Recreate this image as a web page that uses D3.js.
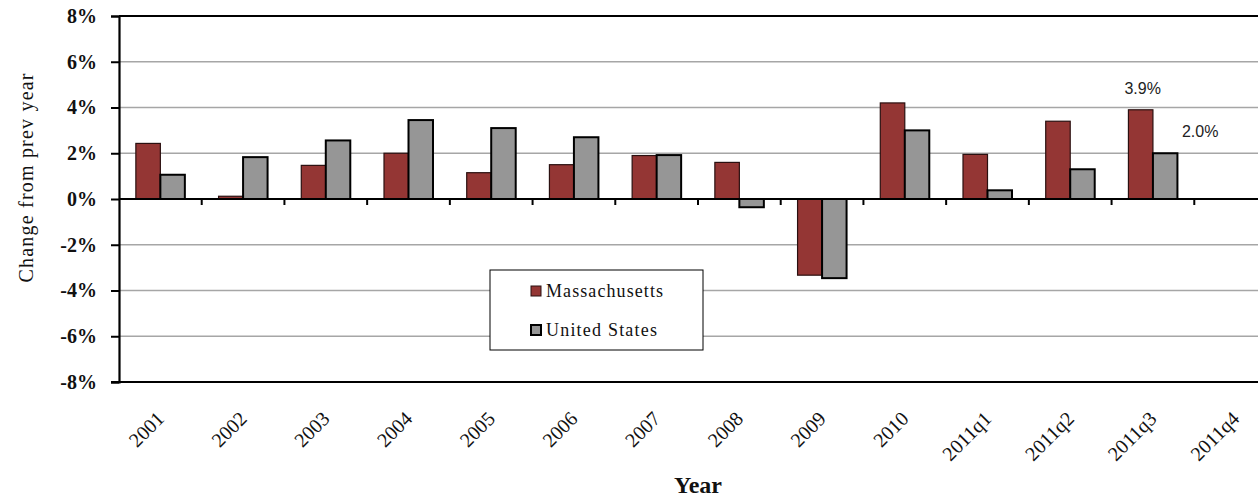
<!DOCTYPE html>
<html>
<head>
<meta charset="utf-8">
<script src="https://cdn.jsdelivr.net/npm/d3@7"></script>
<style>
  body { margin: 0; background: #fff; overflow: hidden; }
  svg { display: block; font-family: "Liberation Serif", "Times New Roman", serif; }
</style>
</head>
<body>
<svg></svg>
<script>
var categories = ["2001", "2002", "2003", "2004", "2005", "2006", "2007", "2008", "2009", "2010", "2011q1", "2011q2", "2011q3", "2011q4"];
var massachusetts = [2.43, 0.12, 1.47, 2.0, 1.15, 1.5, 1.9, 1.6, -3.33, 4.2, 1.95, 3.4, 3.9, null];
var unitedStates = [1.06, 1.83, 2.56, 3.45, 3.1, 2.7, 1.92, -0.36, -3.46, 3.0, 0.38, 1.3, 2.0, null];
var yTicks = [-8, -6, -4, -2, 0, 2, 4, 6, 8];
var seriesNames = ["Massachusetts", "United States"];
var seriesColors = ["#943634", "#969696"];

(function (d3) {
  'use strict';

  var width = 1258, height = 497;
  var svg = d3.select("svg").attr("width", width).attr("height", height);

  var plotL = 119, plotR = 1277, plotT = 16, plotB = 382;

  var x = d3.scaleBand().domain(categories).range([plotL, plotR]).padding(0);
  var y = d3.scaleLinear().domain([-8, 8]).range([plotB, plotT]);
  var barW = 24.5;

  // gridlines
  svg.append("g").selectAll("line")
    .data(yTicks.filter(function (t) { return t !== 0 && Math.abs(t) !== 8; }))
    .enter().append("line")
      .attr("x1", plotL).attr("x2", width)
      .attr("y1", function (d) { return y(d); }).attr("y2", function (d) { return y(d); })
      .attr("stroke", "#a6a6a6").attr("stroke-width", 1.3);

  // top frame line
  svg.append("line").attr("x1", plotL).attr("x2", width).attr("y1", y(8)).attr("y2", y(8))
    .attr("stroke", "#000").attr("stroke-width", 2);

  // y axis
  var yAxis = d3.axisLeft(y).tickValues(yTicks).tickSize(8).tickPadding(14)
    .tickFormat(function (d) { return d + "%"; });
  var ya = svg.append("g").attr("transform", "translate(" + plotL + ",0)").call(yAxis);
  ya.select(".domain").attr("stroke-width", 2.2);
  ya.selectAll(".tick line").attr("stroke-width", 2);
  ya.selectAll("text")
    .attr("font-family", "Liberation Serif, Times New Roman, serif")
    .attr("font-size", 20).attr("font-weight", "bold").attr("fill", "#111");

  // bars
  function drawSeries(vals, i) {
    svg.append("g").selectAll("rect")
      .data(vals.map(function (v, k) { return { c: categories[k], v: v }; })
        .filter(function (d) { return d.v !== null; }))
      .enter().append("rect")
        .attr("x", function (d) { return x(d.c) + x.bandwidth() / 2 - barW + i * barW; })
        .attr("width", barW)
        .attr("y", function (d) { return y(Math.max(0, d.v)); })
        .attr("height", function (d) { return Math.abs(y(d.v) - y(0)); })
        .attr("fill", seriesColors[i])
        .attr("stroke", i === 0 ? "#2a1010" : "#000")
        .attr("stroke-width", i === 0 ? 1.2 : 2);
  }
  drawSeries(massachusetts, 0);
  drawSeries(unitedStates, 1);

  // x axis ticks at zero, between categories
  var xa = svg.append("g").attr("transform", "translate(0," + y(0) + ")")
    .call(d3.axisBottom(x).tickSize(6).tickFormat(""));
  xa.select(".domain").remove();
  xa.selectAll(".tick line")
    .attr("transform", "translate(" + (x.bandwidth() / 2) + ",0)")
    .attr("stroke-width", 2);
  svg.append("line").attr("x1", plotL).attr("x2", width).attr("y1", y(0)).attr("y2", y(0))
    .attr("stroke", "#000").attr("stroke-width", 2);

  // bottom line
  svg.append("line").attr("x1", plotL - 8).attr("x2", width).attr("y1", y(-8)).attr("y2", y(-8))
    .attr("stroke", "#000").attr("stroke-width", 2.2);

  // category labels
  svg.append("g").selectAll("text")
    .data(categories)
    .enter().append("text")
      .attr("transform", function (d) {
        return "translate(" + (x(d) + x.bandwidth() / 2 + 5) + ",420) rotate(-45)";
      })
      .attr("text-anchor", "end")
      .attr("font-size", 20)
      .attr("fill", "#111")
      .text(function (d) { return d; });

  // axis titles
  svg.append("text")
    .attr("transform", "translate(33,178) rotate(-90)")
    .attr("text-anchor", "middle")
    .attr("font-size", 20).attr("fill", "#111")
    .attr("textLength", 209).attr("lengthAdjust", "spacing")
    .text("Change from prev year");
  svg.append("text")
    .attr("x", 698).attr("y", 493)
    .attr("text-anchor", "middle")
    .attr("font-size", 24).attr("font-weight", "bold").attr("fill", "#111")
    .text("Year");

  // data labels for latest quarter
  var lastIdx = 12;
  svg.append("text")
    .attr("x", x(categories[lastIdx]) + x.bandwidth() / 2 - barW / 2 + 2)
    .attr("y", y(massachusetts[lastIdx]) - 16)
    .attr("text-anchor", "middle")
    .attr("font-family", "Liberation Sans, Arial, sans-serif")
    .attr("font-size", 16).attr("fill", "#222")
    .text(massachusetts[lastIdx].toFixed(1) + "%");
  svg.append("text")
    .attr("x", x(categories[lastIdx]) + x.bandwidth() / 2 + barW / 2 + 35)
    .attr("y", y(unitedStates[lastIdx]) - 16)
    .attr("text-anchor", "middle")
    .attr("font-family", "Liberation Sans, Arial, sans-serif")
    .attr("font-size", 16).attr("fill", "#222")
    .text(unitedStates[lastIdx].toFixed(1) + "%");

  // legend
  var legendWidths = [117, 111];
  var lg = svg.append("g").attr("transform", "translate(490,270)");
  lg.append("rect").attr("width", 213).attr("height", 80)
    .attr("fill", "#fff").attr("stroke", "#000").attr("stroke-width", 1);
  seriesNames.forEach(function (name, i) {
    var row = lg.append("g").attr("transform", "translate(41," + (16 + i * 39) + ")");
    row.append("rect").attr("width", 10).attr("height", 10)
      .attr("fill", seriesColors[i])
      .attr("stroke", i === 0 ? "#2a1010" : "#000")
      .attr("stroke-width", i === 0 ? 1 : 2);
    row.append("text").attr("x", 15).attr("y", 11)
      .attr("font-size", 18).attr("fill", "#111")
      .attr("textLength", legendWidths[i]).attr("lengthAdjust", "spacing")
      .text(name);
  });
}(d3));
</script>
</body>
</html>
